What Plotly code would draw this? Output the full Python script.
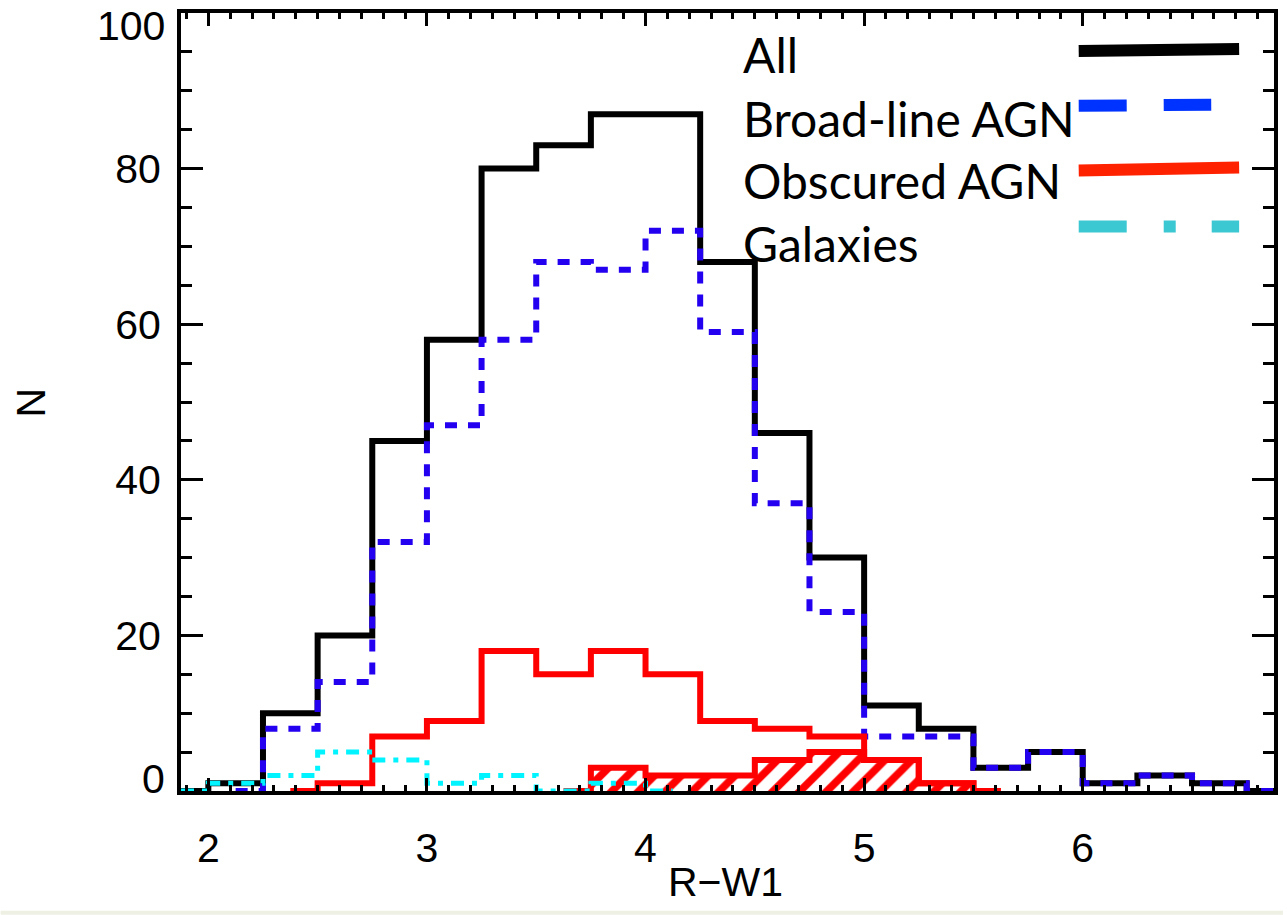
import plotly.graph_objects as go

# Histograms of R-W1 colour, bin width 0.25 (x = bin centres)
rw1_all = [1.875, 2.125, 2.375, 2.625, 2.875, 3.125, 3.375, 3.625, 3.875, 4.125,
           4.375, 4.625, 4.875, 5.125, 5.375, 5.625, 5.875, 6.125, 6.375, 6.625, 6.875]
n_all = [0, 1, 10, 20, 45, 58, 80, 83, 87, 87, 68, 46, 30, 11, 8, 3, 5, 1, 2, 1, 0]

rw1_broad = [2.125, 2.375, 2.625, 2.875, 3.125, 3.375, 3.625, 3.875, 4.125, 4.375,
             4.625, 4.875, 5.125, 5.375, 5.625, 5.875, 6.125, 6.375, 6.625, 6.875]
n_broad = [0, 8, 14, 32, 47, 58, 68, 67, 72, 59, 37, 23, 7, 7, 3, 5, 1, 2, 1, 0]

rw1_obsc = [2.375, 2.625, 2.875, 3.125, 3.375, 3.625, 3.875, 4.125, 4.375,
            4.625, 4.875, 5.125, 5.375, 5.625]
n_obsc = [0, 1, 7, 9, 18, 15, 18, 15, 9, 8, 7, 4, 1, 0]

rw1_obsc_sub = [3.625, 3.875, 4.125, 4.375, 4.625, 4.875, 5.125, 5.375, 5.625]
n_obsc_sub = [0, 3, 2, 2, 4, 5, 4, 1, 0]

rw1_gal = [1.875, 2.125, 2.375, 2.625, 2.875, 3.125, 3.375, 3.625, 3.875, 4.125]
n_gal = [0, 1, 2, 5, 4, 1, 2, 0, 1, 0]

legend_labels = ["All", "Broad-line AGN", "Obscured AGN", "Galaxies"]

x_ticks = [2, 3, 4, 5, 6]
y_ticks = [0, 20, 40, 60, 80, 100]

BLUE = "#2400f0"
RED = "#ff0000"
CYAN = "#00f4ff"
AXIS_FONT = "Liberation Sans, Arial, sans-serif"

fig = go.Figure()

fig.add_trace(go.Scatter(x=rw1_all, y=n_all, mode="lines",
                         line=dict(shape="hvh", color="black", width=6)))
fig.add_trace(go.Scatter(x=rw1_broad, y=n_broad, mode="lines",
                         line=dict(shape="hvh", color=BLUE, width=6, dash="12px,11px")))
fig.add_trace(go.Scatter(x=rw1_obsc_sub, y=n_obsc_sub, mode="lines",
                         line=dict(shape="hvh", color=RED, width=6),
                         fill="tozeroy",
                         fillpattern=dict(shape="/", fgcolor=RED, bgcolor="rgba(0,0,0,0)",
                                          fgopacity=1, size=19, solidity=0.4)))
fig.add_trace(go.Scatter(x=rw1_obsc, y=n_obsc, mode="lines",
                         line=dict(shape="hvh", color=RED, width=6)))
fig.add_trace(go.Scatter(x=rw1_gal, y=n_gal, mode="lines",
                         line=dict(shape="hvh", color=CYAN, width=5, dash="13px,8px,5px,8px")))

tick_font = dict(family=AXIS_FONT, size=41, color="black")

# end labels (0 and 100) are set inside the frame edges, as annotations below
y_ticktext = ["" if v in (y_ticks[0], y_ticks[-1]) else str(v) for v in y_ticks]

fig.update_xaxes(range=[1.875, 6.875], tickvals=x_ticks, ticktext=[str(v) for v in x_ticks],
                 showline=True, linewidth=4, linecolor="black", mirror="allticks",
                 ticks="inside", ticklen=13, tickwidth=3, tickcolor="black",
                 minor=dict(dtick=0.1, tick0=2, ticks="inside", ticklen=6, tickwidth=3,
                            tickcolor="black", showgrid=False),
                 showgrid=False, zeroline=False, tickfont=tick_font,
                 ticklabelstandoff=18)
fig.update_yaxes(range=[0, 100], tickvals=y_ticks, ticktext=y_ticktext,
                 showline=True, linewidth=4, linecolor="black", mirror="allticks",
                 ticks="inside", ticklen=22, tickwidth=3, tickcolor="black",
                 minor=dict(dtick=5, tick0=0, ticks="inside", ticklen=11, tickwidth=3,
                            tickcolor="black", showgrid=False),
                 showgrid=False, zeroline=False, tickfont=tick_font,
                 ticklabelstandoff=8)

PL, PR, PT, PB = 181, 1278, 11, 791
W, H = 1287, 915
pw, ph = PR - PL, PB - PT


def px(x):
    return (x - PL) / pw


def py(y):
    return (PB - y) / ph


annotations = [
    dict(text=str(y_ticks[-1]), x=0, xref="paper", y=y_ticks[-1], yref="y",
         xanchor="right", yanchor="top", xshift=-14, yshift=12, showarrow=False,
         font=tick_font),
    dict(text=str(y_ticks[0]), x=0, xref="paper", y=y_ticks[0], yref="y",
         xanchor="right", yanchor="bottom", xshift=-14, yshift=-13, showarrow=False,
         font=tick_font),
    dict(text="R\u2212W1", x=px(727), y=py(882), xref="paper", yref="paper",
         showarrow=False, font=dict(family=AXIS_FONT, size=41, color="black"),
         xanchor="center", yanchor="middle"),
    dict(text="N", x=px(30), y=py(402), xref="paper", yref="paper", textangle=-90,
         showarrow=False, font=dict(family=AXIS_FONT, size=41, color="black"),
         xanchor="center", yanchor="middle"),
]
legend_y = [53, 117, 179, 242]
for label, ly in zip(legend_labels, legend_y):
    annotations.append(dict(text=label, x=px(743), y=py(ly), xref="paper", yref="paper",
                            showarrow=False, xanchor="left", yanchor="middle",
                            font=dict(family="Lato, Open Sans, sans-serif", size=48,
                                      color="black")))

shapes = [
    # light strip along the bottom of the page
    dict(type="rect", xref="paper", yref="paper", x0=px(0), x1=px(W), y0=py(915), y1=py(911),
         fillcolor="#eef0e4", line=dict(width=0), layer="below"),
    # legend line samples
    dict(type="line", xref="paper", yref="paper", x0=px(1082), x1=px(1243), y0=py(49), y1=py(47),
         line=dict(color="black", width=12)),
    dict(type="line", xref="paper", yref="paper", x0=px(1082), x1=px(1215), y0=py(104), y1=py(103),
         line=dict(color="#0033ff", width=12, dash="48px,37px")),
    dict(type="line", xref="paper", yref="paper", x0=px(1082), x1=px(1243), y0=py(169), y1=py(166),
         line=dict(color="#ff2200", width=12)),
    dict(type="line", xref="paper", yref="paper", x0=px(1082), x1=px(1243), y0=py(225), y1=py(225),
         line=dict(color="#3cc8d2", width=12, dash="48px,37px,12px,36px")),
]

fig.update_layout(
    width=W, height=H,
    margin=dict(l=PL, r=W - PR, t=PT, b=H - PB, pad=0),
    paper_bgcolor="white", plot_bgcolor="white",
    showlegend=False,
    annotations=annotations,
    shapes=shapes,
)

fig.write_html("out.html")
